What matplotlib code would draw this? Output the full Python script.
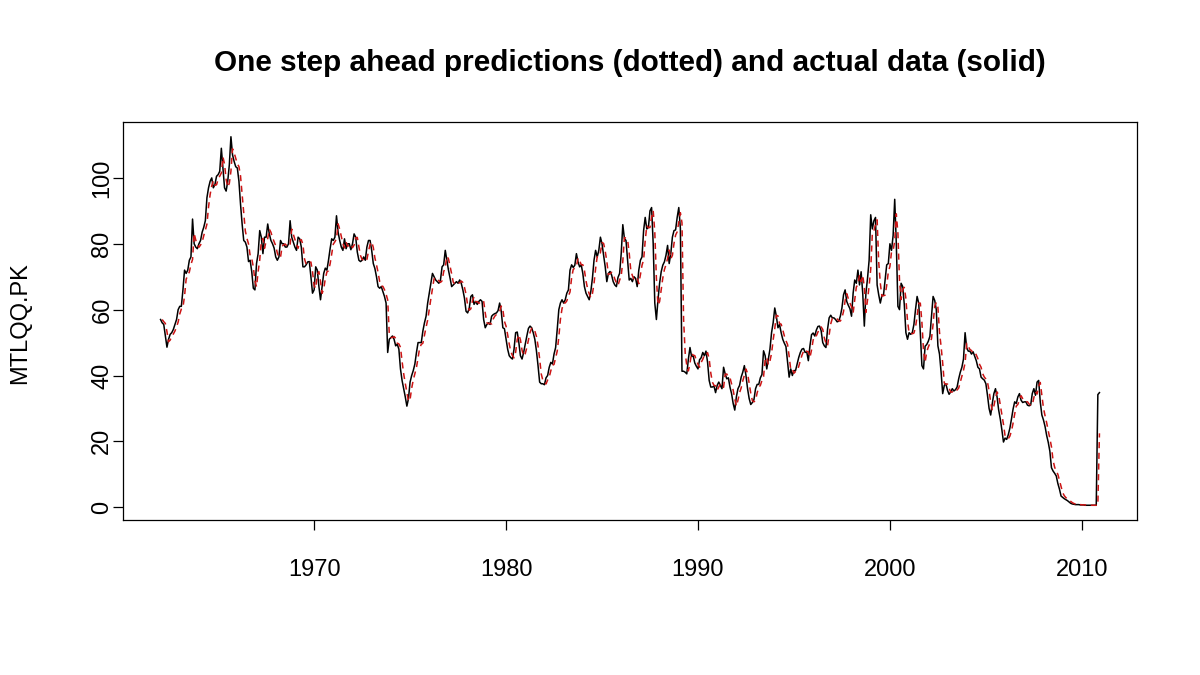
import numpy as np
import matplotlib
matplotlib.use("Agg")
import matplotlib.pyplot as plt

plt.rcParams['font.family'] = ['Liberation Sans', 'DejaVu Sans']

# Monthly series, Jan 1962 .. Dec 2010
start_year = 1962
frequency = 12
mtlqq = [
    57, 56, 55.5, 52, 48.6, 51, 52.5, 53, 54, 55.5, 57, 60,            # 1962
    61, 61, 66, 72, 71, 72, 75, 76, 87.5, 80, 79, 78.5,                # 1963
    80, 81, 83.5, 85, 87, 94, 97, 99, 100, 97, 98, 100.5,              # 1964
    101, 102, 109, 103, 97, 96, 99, 104, 112.5, 107, 105, 103.4,       # 1965
    103, 99, 92, 86, 81, 80.5, 79, 74.6, 75, 71.6, 66.5, 66,           # 1966
    74, 77, 84, 82, 77, 82, 82, 86, 83, 81, 80, 78.7,                  # 1967
    76, 75, 76, 81, 80, 80, 79, 79, 80, 87, 82, 80.5,                  # 1968
    79, 78, 82, 81.5, 79, 73, 73, 73.6, 74.5, 74.6, 70, 65,            # 1969
    66, 73, 72, 67, 63, 67, 71, 72.6, 72, 75, 78.5, 81.5,              # 1970
    81, 82, 88.5, 83.5, 81, 79, 78, 81.5, 78.5, 80, 80, 78.2,          # 1971
    80, 83, 82, 77.5, 75, 74.6, 75, 76, 75, 79, 81, 81,                # 1972
    78, 74, 72.5, 70, 67, 66.5, 67, 65.5, 64, 62, 47, 51,              # 1973
    51.5, 52, 51, 49, 49.5, 48, 42, 38.5, 36, 33.5, 30.7, 33,          # 1974
    38, 40, 41.5, 43.5, 47, 50, 50, 50, 53.5, 56, 58, 62,              # 1975
    65, 68, 71, 70, 69, 68.5, 68, 69, 73, 73.6, 78, 75,                # 1976
    72, 69.6, 67, 67.5, 68, 68.5, 68, 69, 68, 66, 63.5, 59.5,          # 1977
    59, 60.5, 64, 64.5, 61.6, 62.5, 61.6, 62.5, 63, 62.5, 57, 54.5,    # 1978
    55.5, 56, 55.5, 58, 58.5, 58.8, 59, 59.7, 62, 59.5, 54.5, 54.2,    # 1979
    51, 48, 46, 45.4, 45, 48, 53, 53.2, 50, 46, 45, 47,                # 1980
    49.5, 52, 54.3, 55, 54.5, 53, 51, 47.5, 43, 38, 37.5, 37.5,        # 1981
    37.2, 39.3, 40, 42.5, 44, 43.5, 46.5, 48.5, 54, 60, 62, 63,        # 1982
    62, 63, 65, 66, 72, 73.6, 72.8, 73.5, 77, 74.5, 73, 73.6,          # 1983
    71, 67, 65, 64, 63, 65.5, 69.5, 75, 78, 76, 78, 82,                # 1984
    80, 76.5, 73, 68.5, 71, 71.6, 70.5, 68.5, 67.5, 67, 69.8, 71,      # 1985
    77, 85.8, 81.6, 81, 75, 69, 69.5, 68.5, 70, 69.5, 67, 72,          # 1986
    75, 76, 84, 88, 84.5, 85, 90, 91, 80, 62, 57, 63,                  # 1987
    68, 71.5, 73.5, 74.5, 76.5, 79.5, 74, 77, 82, 84, 84.2, 88,        # 1988
    91, 84.7, 41.3, 41.3, 41, 40.5, 45, 48.5, 45.8, 46, 43.8, 42.8,    # 1989
    42, 44.8, 45.4, 47, 46, 47.4, 44, 38.5, 36.5, 36.5, 36.8, 34.8,    # 1990
    37, 38, 37, 36, 42.5, 40.5, 39, 39.3, 36.5, 34.5, 31.5, 29.5,      # 1991
    33.5, 36, 37, 39.5, 41, 43, 40, 36, 33, 31.2, 31.8, 32.7,          # 1992
    36, 37.3, 37.3, 39.3, 40.3, 47.5, 46, 42, 45, 48, 53, 56,          # 1993
    60.5, 58, 54.5, 55.5, 53, 51, 49.8, 48.8, 44, 39.5, 42, 40,        # 1994
    41.5, 41.5, 43.5, 45.5, 47, 48, 48.2, 47, 47.2, 44.5, 49, 52.4,    # 1995
    52.9, 52, 53.8, 54.9, 55, 53.6, 50, 49, 48.5, 54, 57.5, 58.3,      # 1996
    57.5, 57.5, 57, 56.3, 56.5, 58, 60.5, 64.5, 66, 62.5, 61.3, 60.3,  # 1997
    58, 65, 69, 68, 72, 67.5, 71.5, 65, 55, 65, 69.5, 75,              # 1998
    88.8, 84.5, 87, 88, 67.5, 64.5, 62, 64.3, 64.5, 69, 73.6, 74,      # 1999
    80, 78, 82.5, 93.5, 80, 61, 60, 68, 67, 61.5, 53, 51,              # 2000
    53, 52.5, 53, 55.5, 60, 64, 62, 53, 43, 42, 48.9, 49.4,            # 2001
    50.4, 51.9, 58, 64, 62.8, 60, 49, 46.5, 41, 34.5, 37, 37.5,        # 2002
    35.5, 34.3, 35, 36, 35.3, 35.7, 36.5, 39, 41, 42.5, 45, 53,        # 2003
    48.4, 47.4, 47.4, 46.5, 47.2, 45.8, 44.5, 42.5, 42, 39.5, 39, 38.6, # 2004
    37.5, 34, 30, 28, 31.5, 34.5, 36, 33.5, 29.5, 26.8, 23.5, 19.8,    # 2005
    21, 20.6, 22, 24, 26.8, 29.8, 32, 31.5, 33.5, 34.5, 32.5, 31.8,    # 2006
    32, 32, 31, 30.8, 31, 34.5, 36, 34, 38, 38.5, 32, 28,              # 2007
    26.5, 24.5, 21.8, 19.7, 17, 12, 11, 10.3, 9.5, 7.2, 5.5, 3.4,      # 2008
    3.0, 2.6, 2.3, 2.0, 1.6, 1.2, 1.0, 0.9, 0.8, 0.8, 0.8, 0.7,        # 2009
    0.7, 0.7, 0.6, 0.6, 0.6, 0.6, 0.6, 0.6, 0.6, 0.6, 34.2, 34.8,      # 2010
]

# One-step-ahead predictions from simple exponential smoothing
smoothing_alpha = 0.65

title = "One step ahead predictions (dotted) and actual data (solid)"
y_label = "MTLQQ.PK"
x_ticks = [1970, 1980, 1990, 2000, 2010]
y_ticks = [0, 20, 40, 60, 80, 100]

actual = np.asarray(mtlqq, dtype=float)
n = len(actual)
t = start_year + np.arange(n) / frequency
pred = np.full(n, np.nan)
pred[1] = actual[0]
for k in range(2, n):
    pred[k] = pred[k - 1] + smoothing_alpha * (actual[k - 1] - pred[k - 1])

W, H = 1200, 675
fig = plt.figure(figsize=(W / 100, H / 100), dpi=100)
L, R, T, B = 123, 1137, 122, 520
ax = fig.add_axes([L / W, 1 - B / H, (R - L) / W, (B - T) / H])

ax.plot(t, actual, color='black', lw=1.1)
ax.plot(t[1:], pred[1:], color='#CC1414', lw=1.1, dashes=(4, 3))

# R-style 4% axis extension
xr = t[-1] - t[0]
ax.set_xlim(t[0] - 0.04 * xr, t[-1] + 0.04 * xr)
ymin, ymax = np.nanmin(actual), np.nanmax(actual)
yr = ymax - ymin
ax.set_ylim(ymin - 0.04 * yr, ymax + 0.04 * yr)

ax.set_xticks(x_ticks)
ax.set_xticklabels([str(v) for v in x_ticks])
ax.set_yticks(y_ticks)
ax.set_yticklabels([str(v) for v in y_ticks], rotation=90, va='center')

ax.tick_params(axis='both', direction='out', length=7, width=0.9,
               labelsize=17, color='black')
ax.tick_params(axis='x', pad=21)
ax.tick_params(axis='y', pad=0)
for s in ax.spines.values():
    s.set_linewidth(0.9)

fig.text(20 / W, 1 - 323 / H, y_label, rotation=90, ha='center', va='center', fontsize=17)
fig.text(630 / W, 1 - 63 / H, title, ha='center', va='center', fontsize=21.4, fontweight='bold')

fig.savefig('out.png', dpi=100)
